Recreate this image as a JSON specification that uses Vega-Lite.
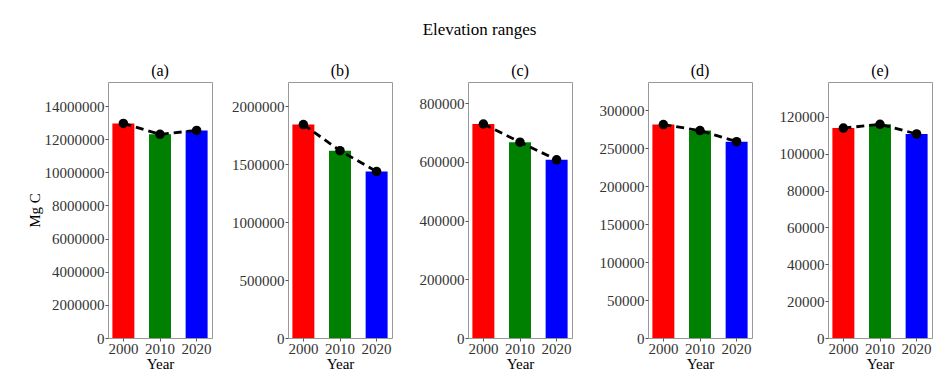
{
  "$schema": "https://vega.github.io/schema/vega-lite/v6.json",
  "background": "white",
  "padding": {"left": 26, "top": 20, "right": 4, "bottom": 8},
  "title": {"text": "Elevation ranges", "fontSize": 17, "font": "Liberation Serif", "fontWeight": "normal", "color": "black", "anchor": "middle", "offset": 24},
  "data": {"values": [
    {"panel": "a", "year": "2000", "value": 12950000},
    {"panel": "a", "year": "2010", "value": 12290000},
    {"panel": "a", "year": "2020", "value": 12530000},
    {"panel": "b", "year": "2000", "value": 1840000},
    {"panel": "b", "year": "2010", "value": 1615000},
    {"panel": "b", "year": "2020", "value": 1435000},
    {"panel": "c", "year": "2000", "value": 729000},
    {"panel": "c", "year": "2010", "value": 667000},
    {"panel": "c", "year": "2020", "value": 607000},
    {"panel": "d", "year": "2000", "value": 281000},
    {"panel": "d", "year": "2010", "value": 273000},
    {"panel": "d", "year": "2020", "value": 258500},
    {"panel": "e", "year": "2000", "value": 114000},
    {"panel": "e", "year": "2010", "value": 116000},
    {"panel": "e", "year": "2020", "value": 110800}
  ]},
  "bounds": "flush",
  "spacing": 76,
  "config": {
    "font": "Liberation Serif",
    "view": {"stroke": "#999999", "strokeWidth": 1},
    "axis": {"labelFont": "Liberation Serif", "labelFontSize": 15, "labelColor": "#333333", "titleFont": "Liberation Serif", "titleFontSize": 15, "titleFontWeight": "normal", "titleColor": "black", "grid": false, "tickColor": "#555555", "tickSize": 3, "domain": false, "labelPadding": 1, "titlePadding": 2, "labelOverlap": false},
    "axisX": {"titlePadding": 0, "labelPadding": 0},
    "title": {"font": "Liberation Serif", "fontSize": 16, "fontWeight": "normal", "color": "black", "offset": 3}
  },
  "hconcat": [
    {
      "title": "(a)", "width": 104, "height": 256,
      "transform": [{"filter": "datum.panel === 'a'"}],
      "encoding": {
        "x": {"field": "year", "type": "nominal", "title": "Year", "scale": {"paddingInner": 0.4, "paddingOuter": 0.12}, "axis": {"labelAngle": 0}},
        "y": {"field": "value", "type": "quantitative", "scale": {"domain": [0, 15450000], "nice": false}, "axis": {"title": "Mg C", "values": [0, 2000000, 4000000, 6000000, 8000000, 10000000, 12000000, 14000000], "format": "d", "labelOverlap": false}}
      },
      "layer": [
        {"mark": {"type": "bar"}, "encoding": {"color": {"field": "year", "type": "nominal", "scale": {"domain": ["2000", "2010", "2020"], "range": ["#ff0000", "#008000", "#0000ff"]}, "legend": null}}},
        {"mark": {"type": "line", "color": "black", "strokeDash": [8, 5], "strokeWidth": 2.8}, "encoding": {}},
        {"mark": {"type": "point", "filled": true, "color": "black", "size": 90, "opacity": 1}, "encoding": {}}
      ]
    },
    {
      "title": "(b)", "width": 104, "height": 256,
      "transform": [{"filter": "datum.panel === 'b'"}],
      "encoding": {
        "x": {"field": "year", "type": "nominal", "title": "Year", "scale": {"paddingInner": 0.4, "paddingOuter": 0.12}, "axis": {"labelAngle": 0}},
        "y": {"field": "value", "type": "quantitative", "scale": {"domain": [0, 2207000], "nice": false}, "axis": {"title": null, "values": [0, 500000, 1000000, 1500000, 2000000], "format": "d", "labelOverlap": false}}
      },
      "layer": [
        {"mark": {"type": "bar"}, "encoding": {"color": {"field": "year", "type": "nominal", "scale": {"domain": ["2000", "2010", "2020"], "range": ["#ff0000", "#008000", "#0000ff"]}, "legend": null}}},
        {"mark": {"type": "line", "color": "black", "strokeDash": [8, 5], "strokeWidth": 2.8}, "encoding": {}},
        {"mark": {"type": "point", "filled": true, "color": "black", "size": 90, "opacity": 1}, "encoding": {}}
      ]
    },
    {
      "title": "(c)", "width": 104, "height": 256,
      "transform": [{"filter": "datum.panel === 'c'"}],
      "encoding": {
        "x": {"field": "year", "type": "nominal", "title": "Year", "scale": {"paddingInner": 0.4, "paddingOuter": 0.12}, "axis": {"labelAngle": 0}},
        "y": {"field": "value", "type": "quantitative", "scale": {"domain": [0, 872000], "nice": false}, "axis": {"title": null, "values": [0, 200000, 400000, 600000, 800000], "format": "d", "labelOverlap": false}}
      },
      "layer": [
        {"mark": {"type": "bar"}, "encoding": {"color": {"field": "year", "type": "nominal", "scale": {"domain": ["2000", "2010", "2020"], "range": ["#ff0000", "#008000", "#0000ff"]}, "legend": null}}},
        {"mark": {"type": "line", "color": "black", "strokeDash": [8, 5], "strokeWidth": 2.8}, "encoding": {}},
        {"mark": {"type": "point", "filled": true, "color": "black", "size": 90, "opacity": 1}, "encoding": {}}
      ]
    },
    {
      "title": "(d)", "width": 104, "height": 256,
      "transform": [{"filter": "datum.panel === 'd'"}],
      "encoding": {
        "x": {"field": "year", "type": "nominal", "title": "Year", "scale": {"paddingInner": 0.4, "paddingOuter": 0.12}, "axis": {"labelAngle": 0}},
        "y": {"field": "value", "type": "quantitative", "scale": {"domain": [0, 337000], "nice": false}, "axis": {"title": null, "values": [0, 50000, 100000, 150000, 200000, 250000, 300000], "format": "d", "labelOverlap": false}}
      },
      "layer": [
        {"mark": {"type": "bar"}, "encoding": {"color": {"field": "year", "type": "nominal", "scale": {"domain": ["2000", "2010", "2020"], "range": ["#ff0000", "#008000", "#0000ff"]}, "legend": null}}},
        {"mark": {"type": "line", "color": "black", "strokeDash": [8, 5], "strokeWidth": 2.8}, "encoding": {}},
        {"mark": {"type": "point", "filled": true, "color": "black", "size": 90, "opacity": 1}, "encoding": {}}
      ]
    },
    {
      "title": "(e)", "width": 104, "height": 256,
      "transform": [{"filter": "datum.panel === 'e'"}],
      "encoding": {
        "x": {"field": "year", "type": "nominal", "title": "Year", "scale": {"paddingInner": 0.4, "paddingOuter": 0.12}, "axis": {"labelAngle": 0}},
        "y": {"field": "value", "type": "quantitative", "scale": {"domain": [0, 139000], "nice": false}, "axis": {"title": null, "values": [0, 20000, 40000, 60000, 80000, 100000, 120000], "format": "d", "labelOverlap": false}}
      },
      "layer": [
        {"mark": {"type": "bar"}, "encoding": {"color": {"field": "year", "type": "nominal", "scale": {"domain": ["2000", "2010", "2020"], "range": ["#ff0000", "#008000", "#0000ff"]}, "legend": null}}},
        {"mark": {"type": "line", "color": "black", "strokeDash": [8, 5], "strokeWidth": 2.8}, "encoding": {}},
        {"mark": {"type": "point", "filled": true, "color": "black", "size": 90, "opacity": 1}, "encoding": {}}
      ]
    }
  ]
}
